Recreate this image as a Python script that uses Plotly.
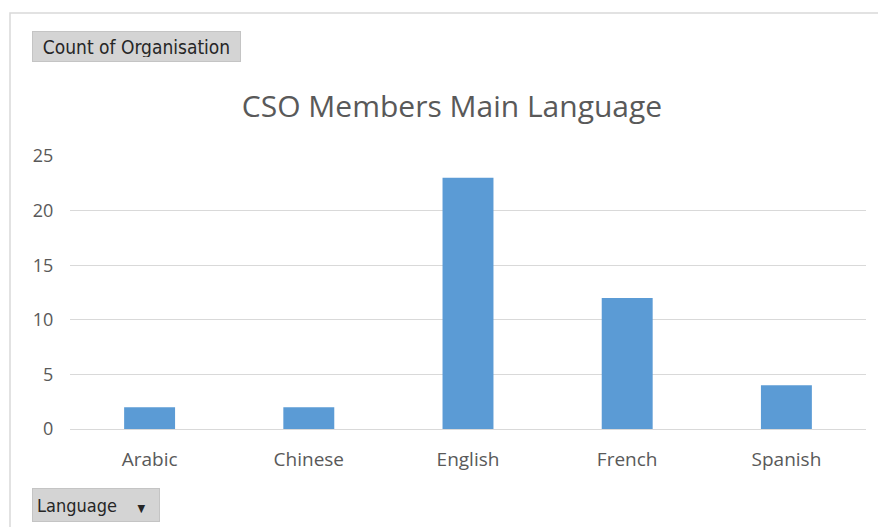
import plotly.graph_objects as go

# datos
languages = ["Arabic", "Chinese", "English", "French", "Spanish"]
counts = [2, 2, 23, 12, 4]
y_ticks = [0, 5, 10, 15, 20, 25]

# la pagina tiene 8px de margen en el body, asi que todo va corrido
OFF = 8
W, H = 886 - OFF, 527 - OFF
L, R = 70 - OFF, 886 - 866
T, B = 156 - OFF, 527 - 429
pw = W - L - R
ph = H - T - B


def px(x):
    return (x - OFF - L) / pw


def py(y):
    return (H - B - (y - OFF)) / ph


fig = go.Figure(go.Bar(
    x=languages, y=counts,
    marker=dict(color="#5B9BD5", line=dict(width=0)),
    hoverinfo="x+y",
))

fig.update_layout(
    width=W, height=H,
    margin=dict(l=L, r=R, t=T, b=B),
    paper_bgcolor="white", plot_bgcolor="white",
    bargap=0.68,
    showlegend=False,
    font=dict(family="Open Sans", color="#595959"),
    title=dict(text="CSO Members Main Language", xref="container", x=(452 - OFF) / W,
               xanchor="center", y=1 - (106 - OFF) / H, yanchor="middle",
               font=dict(size=30, color="#595959", family="Open Sans")),
)

fig.update_yaxes(range=[0, 25], tickvals=y_ticks, showgrid=True, gridcolor="#d9d9d9", gridwidth=1,
                 zeroline=True, zerolinecolor="#d9d9d9", zerolinewidth=1,
                 ticks="outside", ticklen=12, tickcolor="rgba(0,0,0,0)",
                 tickfont=dict(size=18, color="#595959"), showline=False, fixedrange=True)
fig.update_xaxes(showgrid=False, ticks="outside", ticklen=13, tickcolor="rgba(0,0,0,0)",
                 tickfont=dict(size=19, color="#595959"), showline=False, fixedrange=True)

# marco del grafico
fig.add_shape(type="rect", xref="paper", yref="paper",
              x0=px(10), x1=px(900), y0=py(540), y1=py(13),
              line=dict(color="#d9d9d9", width=1.5), fillcolor="rgba(0,0,0,0)", layer="below")

# botones del pivot chart
fig.add_annotation(text="Count of Organisation", xref="paper", yref="paper",
                   x=px(32), y=py(46), xanchor="left", yanchor="middle", showarrow=False,
                   width=199, height=21, align="center",
                   font=dict(size=19, color="#262626", family="DejaVu Sans Condensed"),
                   bgcolor="#d4d4d4", bordercolor="#c4c4c4", borderwidth=1, borderpad=4)
fig.add_annotation(text="Language    <span style='font-size:11px'>\u25BC</span>",
                   xref="paper", yref="paper",
                   x=px(32), y=py(505), xanchor="left", yanchor="middle", showarrow=False,
                   width=118, height=24, align="left",
                   font=dict(size=18, color="#262626", family="DejaVu Sans Condensed"),
                   bgcolor="#d4d4d4", bordercolor="#c4c4c4", borderwidth=1, borderpad=4)

fig.write_html("out.html")
